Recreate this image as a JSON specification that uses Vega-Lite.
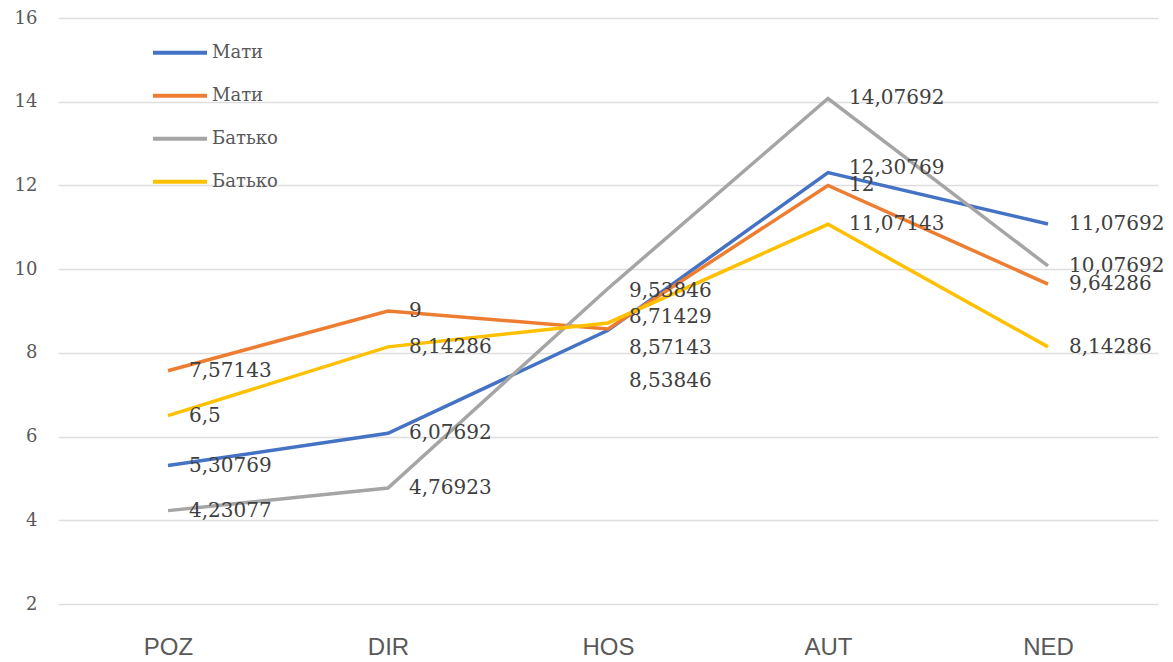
{
  "$schema": "https://vega.github.io/schema/vega-lite/v6.json",
  "autosize": {"type": "none"},
  "width": 1100,
  "height": 586,
  "padding": {"left": 58, "top": 18, "right": 15, "bottom": 58},
  "background": "#ffffff",
  "config": {
    "view": {"stroke": null},
    "locale": {"number": {"decimal": ",", "thousands": " ", "grouping": [3], "currency": ["", ""]}}
  },
  "data": {
    "values": [
      {"s": "Мати|1", "cat": "POZ", "v": 5.30769},
      {"s": "Мати|1", "cat": "DIR", "v": 6.07692},
      {"s": "Мати|1", "cat": "HOS", "v": 8.53846},
      {"s": "Мати|1", "cat": "AUT", "v": 12.30769},
      {"s": "Мати|1", "cat": "NED", "v": 11.07692},
      {"s": "Мати|2", "cat": "POZ", "v": 7.57143},
      {"s": "Мати|2", "cat": "DIR", "v": 9},
      {"s": "Мати|2", "cat": "HOS", "v": 8.57143},
      {"s": "Мати|2", "cat": "AUT", "v": 12},
      {"s": "Мати|2", "cat": "NED", "v": 9.64286},
      {"s": "Батько|3", "cat": "POZ", "v": 4.23077},
      {"s": "Батько|3", "cat": "DIR", "v": 4.76923},
      {"s": "Батько|3", "cat": "HOS", "v": 9.53846},
      {"s": "Батько|3", "cat": "AUT", "v": 14.07692},
      {"s": "Батько|3", "cat": "NED", "v": 10.07692},
      {"s": "Батько|4", "cat": "POZ", "v": 6.5},
      {"s": "Батько|4", "cat": "DIR", "v": 8.14286},
      {"s": "Батько|4", "cat": "HOS", "v": 8.71429},
      {"s": "Батько|4", "cat": "AUT", "v": 11.07143},
      {"s": "Батько|4", "cat": "NED", "v": 8.14286}
    ]
  },
  "encoding": {
    "x": {
      "field": "cat", "type": "nominal", "sort": ["POZ", "DIR", "HOS", "AUT", "NED"],
      "scale": {"type": "point", "padding": 0.5},
      "axis": {"title": null, "domain": false, "ticks": false, "grid": false, "labelAngle": 0,
               "labelFont": "Liberation Sans", "labelFontSize": 24, "labelColor": "#595959", "labelPadding": 31}
    },
    "y": {
      "field": "v", "type": "quantitative",
      "scale": {"domain": [2, 16], "nice": false, "zero": false},
      "axis": {"title": null, "domain": false, "ticks": false, "values": [2, 4, 6, 8, 10, 12, 14, 16],
               "format": "d", "gridColor": "#dedede", "gridWidth": 1.3,
               "labelFont": "DejaVu Serif", "labelFontSize": 18, "labelColor": "#595959", "labelPadding": 21}
    }
  },
  "layer": [
    {
      "mark": {"type": "line", "strokeWidth": 3.5},
      "encoding": {
        "color": {
          "field": "s", "type": "nominal",
          "scale": {"domain": ["Мати|1", "Мати|2", "Батько|3", "Батько|4"], "range": ["#4472C4", "#ED7D31", "#A5A5A5", "#FFC000"]},
          "legend": {
            "title": null, "orient": "none", "legendX": 93, "legendY": 13.5,
            "symbolType": "stroke", "symbolSize": 2916, "symbolStrokeWidth": 4,
            "labelExpr": "split(datum.label, '|')[0]",
            "labelFont": "DejaVu Serif", "labelFontSize": 18, "labelColor": "#595959",
            "labelOffset": 3, "clipHeight": 42.7, "rowPadding": 0
          }
        }
      }
    },
    {
      "mark": {"type": "text", "align": "left", "baseline": "middle", "dx": 21, "font": "DejaVu Serif", "fontSize": 20, "color": "#404040",
               "dy": {"expr": "datum.cat === 'HOS' ? (datum.s === 'Мати|1' ? 51 : datum.s === 'Мати|2' ? 19 : datum.s === 'Батько|4' ? -6 : 3) : (datum.cat === 'AUT' && datum.s === 'Мати|1' ? -5 : 0)"}},
      "encoding": {
        "text": {"field": "v", "type": "quantitative", "format": ".7~g"},
        "detail": {"field": "s"}
      }
    }
  ]
}
